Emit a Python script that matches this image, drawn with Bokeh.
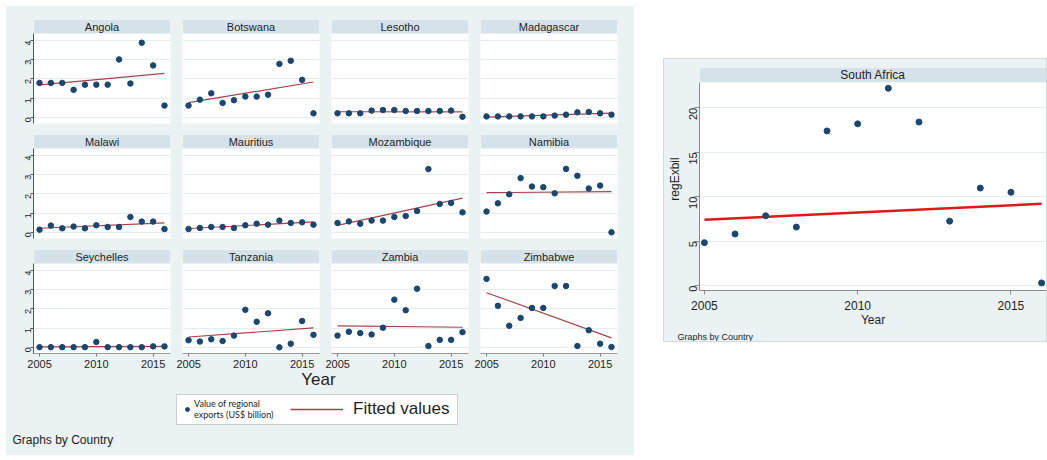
import math
import numpy as np
from bokeh.plotting import figure
from bokeh.models import (Range1d, FixedTicker, BoxAnnotation, Label, Legend, LegendItem,
                          Title, Spacer, LinearAxis, Grid)
from bokeh.layouts import row, column
from bokeh.embed import file_html
from bokeh.resources import INLINE

# ---------------- data ----------------
years = [2005, 2006, 2007, 2008, 2009, 2010, 2011, 2012, 2013, 2014, 2015, 2016]

angola     = [1.79, 1.79, 1.79, 1.43, 1.70, 1.70, 1.70, 3.01, 1.76, 3.88, 2.70, 0.61]
botswana   = [0.61, 0.92, 1.25, 0.75, 0.89, 1.08, 1.08, 1.18, 2.78, 2.94, 1.95, 0.21]
lesotho    = [0.21, 0.21, 0.21, 0.35, 0.38, 0.38, 0.33, 0.33, 0.33, 0.33, 0.35, 0.03]
madagascar = [0.05, 0.05, 0.05, 0.05, 0.05, 0.05, 0.09, 0.14, 0.26, 0.28, 0.21, 0.14]
malawi     = [0.14, 0.35, 0.21, 0.30, 0.21, 0.37, 0.28, 0.28, 0.80, 0.56, 0.56, 0.17]
mauritius  = [0.17, 0.23, 0.28, 0.28, 0.23, 0.37, 0.45, 0.40, 0.61, 0.49, 0.52, 0.40]
mozambique = [0.49, 0.57, 0.45, 0.61, 0.61, 0.80, 0.85, 1.11, 3.29, 1.48, 1.53, 1.04]
namibia    = [1.08, 1.51, 1.98, 2.82, 2.38, 2.35, 2.03, 3.30, 2.94, 2.28, 2.43, 0.00]
seychelles = [0.01, 0.01, 0.01, 0.01, 0.01, 0.28, 0.01, 0.01, 0.01, 0.01, 0.05, 0.05]
tanzania   = [0.37, 0.30, 0.42, 0.33, 0.61, 1.95, 1.33, 1.77, 0.00, 0.19, 1.37, 0.65]
zambia     = [0.61, 0.81, 0.74, 0.67, 1.02, 2.48, 1.93, 3.05, 0.07, 0.39, 0.39, 0.79]
zimbabwe   = [3.56, 2.16, 1.12, 1.53, 2.05, 2.05, 3.19, 3.19, 0.07, 0.89, 0.19, 0.02]

south_africa = [4.83, 5.80, 7.85, 6.58, 17.4, 18.2, 22.2, 18.4, 7.25, 10.97, 10.5, 0.30]
sa_fit_years = [2005, 2016]
sa_fit_values = [7.4, 9.2]

small_names = ["Angola", "Botswana", "Lesotho", "Madagascar",
               "Malawi", "Mauritius", "Mozambique", "Namibia",
               "Seychelles", "Tanzania", "Zambia", "Zimbabwe"]
small_series = [angola, botswana, lesotho, madagascar,
                malawi, mauritius, mozambique, namibia,
                seychelles, tanzania, zambia, zimbabwe]
small_yticks = [0, 1, 2, 3, 4]
year_ticks = [2005, 2010, 2015]
sa_yticks = [0, 5, 10, 15, 20]

# ---------------- styles ----------------
BG = "#EAF2F3"
STRIP = "#D6E2E9"
NAVY = "#1A476F"
MAROON = "#A4444A"
SA_RED = "#E01818"
GRIDC = "#E3ECEF"
FONT = "Liberation Sans"
TXT = "#1E1E1E"
BGSTYLE = {"background-color": BG}

FRAME_W = 137
PLOT_H = 90
STRIP_H = 14
XMIN, XMAX = 2004.47, 2016.53
YMIN, YMAX = -0.32, 4.36
YTOP = YMAX + STRIP_H * (YMAX - YMIN) / PLOT_H

col_borders = [(0, 6), (6, 6), (6, 6), (6, 17)]
row_borders = [(13, 5), (6, 5), (6, 0)]


def small_panel(name, vals, r, c):
    left, right = col_borders[c]
    top, bottom = row_borders[r]
    p = figure(frame_width=FRAME_W, frame_height=STRIP_H + PLOT_H,
               x_range=Range1d(XMIN, XMAX), y_range=Range1d(YMIN, YTOP),
               x_axis_type=None, y_axis_type=None,
               output_backend="svg", toolbar_location=None,
               min_border_left=left, min_border_right=right,
               min_border_top=top, min_border_bottom=bottom,
               styles=BGSTYLE)
    p.border_fill_color = BG
    p.background_fill_color = "white"
    p.outline_line_color = None
    p.add_layout(Grid(dimension=1, ticker=FixedTicker(ticks=small_yticks),
                      grid_line_color=GRIDC, grid_line_width=1))
    if c == 0:
        ax = LinearAxis(ticker=FixedTicker(ticks=small_yticks), bounds=(YMIN, YMAX),
                        major_label_orientation=math.pi / 2,
                        major_tick_out=3, major_tick_in=0, minor_tick_out=0, minor_tick_in=0,
                        major_label_standoff=2,
                        axis_line_color="#555555", major_tick_line_color="#555555",
                        major_label_text_font=FONT, major_label_text_font_size="9px",
                        major_label_text_color=TXT)
        p.add_layout(ax, "left")
    if r == 2:
        ax = LinearAxis(ticker=FixedTicker(ticks=year_ticks),
                        major_tick_out=3, major_tick_in=0, minor_tick_out=0, minor_tick_in=0,
                        major_label_standoff=3,
                        axis_line_color="#9A9A9A", major_tick_line_color="#777777",
                        major_label_text_font=FONT, major_label_text_font_size="11px",
                        major_label_text_color=TXT)
        p.add_layout(ax, "below")
    slope, icpt = np.polyfit(years, vals, 1)
    fx = [years[0], years[-1]]
    p.line(fx, [icpt + slope * x for x in fx], line_color=MAROON, line_width=1.2)
    p.scatter(years, vals, size=5.5, color=NAVY, marker="circle")
    p.add_layout(BoxAnnotation(left=XMIN, right=XMAX, bottom=YMAX, top=YTOP,
                               fill_color=STRIP, fill_alpha=1, line_color=None))
    p.add_layout(Label(x=(XMIN + XMAX) / 2, y=(YMAX + YTOP) / 2, text=name,
                       text_align="center", text_baseline="middle",
                       text_font=FONT, text_font_size="11px", text_color=TXT))
    return p


rows = []
for r in range(3):
    figs = [Spacer(width=13, height=20, styles=BGSTYLE)]
    for c in range(4):
        i = r * 4 + c
        figs.append(small_panel(small_names[i], small_series[i], r, c))
    rows.append(row(*figs, spacing=0, styles=BGSTYLE))

# bottom strip of the left block: axis title, legend, note
BW, BH = 628, 85
bot = figure(width=BW, height=BH, x_range=Range1d(0, BW), y_range=Range1d(0, BH),
             x_axis_type=None, y_axis_type=None, output_backend="svg",
             toolbar_location=None, min_border=0, styles=BGSTYLE)
bot.border_fill_color = BG
bot.background_fill_color = BG
bot.outline_line_color = None
bot.add_layout(Label(x=312, y=76, text="Year", text_align="center", text_baseline="middle",
                     text_font=FONT, text_font_size="17px", text_color=TXT))
bot.add_layout(Label(x=6, y=16, text="Graphs by Country", text_align="left",
                     text_baseline="middle", text_font=FONT, text_font_size="12px",
                     text_color=TXT))
bot.add_layout(BoxAnnotation(left=170, right=451, bottom=31, top=61, fill_color="white",
                             fill_alpha=1, line_color="#6E6E6E", line_width=1))
r_dot = bot.scatter(x=[float("nan")], y=[float("nan")], size=6, color=NAVY, marker="circle")
r_fit = bot.line(x=[float("nan")], y=[float("nan")], line_color=MAROON, line_width=1.6)
leg1 = Legend(items=[LegendItem(label="Value of regional\nexports (US$ billion)", renderers=[r_dot])],
              location=(176, 35), padding=0, margin=0, border_line_color=None,
              background_fill_alpha=0, label_text_font="Lato", label_text_font_size="9px",
              label_text_color=TXT, glyph_width=10, glyph_height=10, label_standoff=2,
              spacing=0)
leg2 = Legend(items=[LegendItem(label="Fitted values", renderers=[r_fit])],
              location=(284, 36), padding=0, margin=0, border_line_color=None,
              background_fill_alpha=0, label_text_font=FONT, label_text_font_size="17px",
              label_text_color=TXT, glyph_width=53, glyph_height=18, label_standoff=10,
              spacing=0)
bot.add_layout(leg1)
bot.add_layout(leg2)

left_block = column(*rows, bot, spacing=0, styles=BGSTYLE)

# ---------------- South Africa panel ----------------
SA_W, SA_H = 382, 282
SA_T = 8
SA_STRIP = 15
SA_FRAME_H = 228
SA_PLOT_H = SA_FRAME_H - SA_STRIP
SXMIN, SXMAX = 2004.84, 2016.16
SYMIN, SYMAX = -0.556, 22.89
SYTOP = SYMAX + SA_STRIP * (SYMAX - SYMIN) / SA_PLOT_H

sa = figure(width=SA_W, height=SA_H, x_range=Range1d(SXMIN, SXMAX),
            y_range=Range1d(SYMIN, SYTOP), x_axis_type=None, y_axis_type=None,
            output_backend="svg", toolbar_location=None,
            min_border_left=0, min_border_right=0, min_border_top=SA_T,
            min_border_bottom=0,
            styles={"background-color": BG, "box-shadow": "0 0 0 1px #D2DADC"})
sa.border_fill_color = BG
sa.background_fill_color = "white"
sa.outline_line_color = None
sa.add_layout(Grid(dimension=1, ticker=FixedTicker(ticks=sa_yticks),
                   grid_line_color=GRIDC, grid_line_width=1))
say = LinearAxis(ticker=FixedTicker(ticks=sa_yticks), bounds=(SYMIN, SYMAX),
                 axis_label="regExbil", axis_label_standoff=1,
                 axis_label_text_font=FONT, axis_label_text_font_size="12px",
                 axis_label_text_font_style="normal", axis_label_text_color=TXT,
                 major_label_orientation=math.pi / 2, major_label_standoff=1,
                 major_tick_out=5, major_tick_in=0, minor_tick_out=0, minor_tick_in=0,
                 axis_line_color="#8A8A8A", major_tick_line_color="#8A8A8A",
                 major_label_text_font=FONT, major_label_text_font_size="11px",
                 major_label_text_color=TXT)
sa.add_layout(say, "left")
sax = LinearAxis(ticker=FixedTicker(ticks=year_ticks),
                 axis_label="Year", axis_label_standoff=0,
                 axis_label_text_font=FONT, axis_label_text_font_size="12px",
                 axis_label_text_font_style="normal", axis_label_text_color=TXT,
                 major_label_standoff=6, major_tick_out=4, major_tick_in=0,
                 minor_tick_out=0, minor_tick_in=0,
                 axis_line_color="#8A8A8A", major_tick_line_color="#8A8A8A",
                 major_label_text_font=FONT, major_label_text_font_size="12px",
                 major_label_text_color=TXT)
sa.add_layout(sax, "below")
sa.add_layout(Title(text="Graphs by Country", align="left", offset=-22, standoff=0,
                    text_font=FONT, text_font_size="9px", text_font_style="normal",
                    text_color=TXT), "below")
sa.line(sa_fit_years, sa_fit_values, line_color=SA_RED, line_width=2.5)
sa.scatter(years, south_africa, size=6, color=NAVY, marker="circle")
sa.add_layout(BoxAnnotation(left=SXMIN, right=SXMAX, bottom=SYMAX, top=SYTOP,
                            fill_color=STRIP, fill_alpha=1, line_color=None))
sa.add_layout(Label(x=(SXMIN + SXMAX) / 2, y=(SYMAX + SYTOP) / 2, text="South Africa",
                    text_align="center", text_baseline="middle",
                    text_font=FONT, text_font_size="12px", text_color=TXT))

right_block = column(Spacer(width=SA_W, height=53), sa, spacing=0)

layout = column(Spacer(width=10, height=6),
                row(Spacer(width=6, height=10), left_block, Spacer(width=30, height=10),
                    right_block, spacing=0),
                spacing=0)

open("out.html", "w").write(file_html(layout, INLINE))
